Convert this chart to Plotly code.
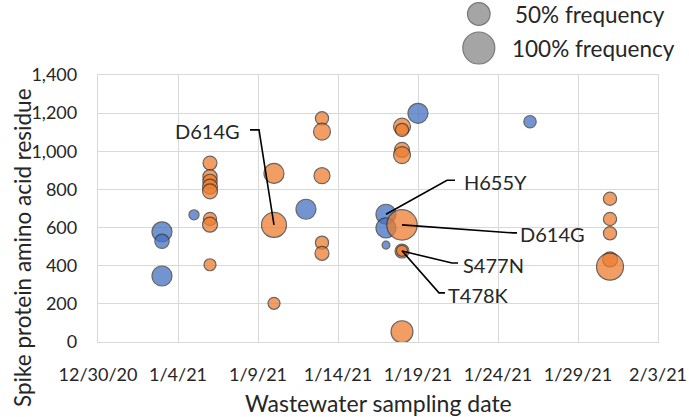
import plotly.graph_objects as go

# ---------------- data ----------------
blue_dates = ["2021-01-03", "2021-01-03", "2021-01-03", "2021-01-05", "2021-01-12",
              "2021-01-17", "2021-01-17", "2021-01-17", "2021-01-19", "2021-01-26"]
blue_residues = [578, 528, 346, 667, 696, 670, 598, 508, 1199, 1155]
blue_freq = [0.39, 0.20, 0.39, 0.10, 0.39, 0.39, 0.39, 0.06, 0.39, 0.15]

orange_dates = ["2021-01-06"] * 8 + ["2021-01-10"] * 3 + ["2021-01-13"] * 5 + \
               ["2021-01-18"] * 8 + ["2021-01-31"] * 5
orange_residues = [938, 866, 842, 815, 790, 645, 615, 405,
                   884, 614, 203,
                   1173, 1103, 872, 521, 465,
                   1129, 1112, 1007, 980, 614, 477, 478, 54,
                   751, 645, 570, 433, 395]
orange_freq = [0.19, 0.20, 0.20, 0.22, 0.22, 0.17, 0.22, 0.14,
               0.39, 0.61, 0.14,
               0.17, 0.28, 0.25, 0.17, 0.19,
               0.28, 0.17, 0.22, 0.28, 0.90, 0.19, 0.12, 0.47,
               0.17, 0.17, 0.17, 0.22, 0.71]

legend_labels = ["100% frequency", "50% frequency"]
legend_freq = [1.0, 0.5]

callout_labels = ["D614G", "H655Y", "D614G", "S477N", "T478K"]
callout_dates = ["2021-01-10", "2021-01-17", "2021-01-18", "2021-01-18", "2021-01-18"]
callout_residues = [614, 670, 614, 477, 478]

x_tick_start = "2020-12-30"
x_tick_end = "2021-02-03"
y_max = 1400

# ---------------- style ----------------
FONT = "Lato, Carlito, Calibri, sans-serif"
TXT = "#262626"
GRID = "#D9D9D9"
MAX_D = 32                     # px diameter of a 100% bubble
SIZEREF = 2.0 / MAX_D ** 2     # plotly area sizing

# pixel geometry of each callout relative to its point: elbow, stub end, text pos, anchor
callout_geom = [
    dict(elbow=(-15, 95), stub=(-24, 95), text=(-32, 94), anchor="right"),
    dict(elbow=(61, 34), stub=(69, 34), text=(76, 32), anchor="left"),
    dict(elbow=(111, -8), stub=(115, -8), text=(116, -9), anchor="left"),
    dict(elbow=(50, -12), stub=(56, -12), text=(59, -14), anchor="left"),
    dict(elbow=(37, -42), stub=(43, -42), text=(44, -44), anchor="left"),
]

fig = go.Figure()

def bubble(dates, vals, freq, color):
    return go.Scatter(
        x=dates, y=vals, mode="markers",
        marker=dict(size=freq, sizemode="area", sizeref=SIZEREF, color=color,
                    opacity=0.75, line=dict(color="#333333", width=1.2)),
        showlegend=False, hoverinfo="x+y",
    )

fig.add_trace(bubble(blue_dates, blue_residues, blue_freq, "#4472C4"))
fig.add_trace(bubble(orange_dates, orange_residues, orange_freq, "#ED7D31"))

# bubble-size legend
fig.add_trace(go.Scatter(
    x=[0] * len(legend_labels), y=legend_labels, xaxis="x2", yaxis="y2",
    mode="markers", cliponaxis=False,
    marker=dict(size=legend_freq, sizemode="area", sizeref=SIZEREF,
                color="#808080", line=dict(color="#404040", width=1.2)),
    showlegend=False, hoverinfo="skip",
))
for lab, xs in zip(legend_labels, [31, 34]):
    fig.add_annotation(x=0, y=lab, xref="x2", yref="y2", text=lab, showarrow=False,
                       xanchor="left", yanchor="middle", xshift=xs,
                       font=dict(family=FONT, size=22.5, color=TXT))

# callouts
for lab, d, v, g in zip(callout_labels, callout_dates, callout_residues, callout_geom):
    (ex, ey), (sx, sy) = g["elbow"], g["stub"]
    fig.add_shape(type="path", xref="x", yref="y", xsizemode="pixel", ysizemode="pixel",
                  xanchor=d, yanchor=v,
                  path=f"M 0,0 L {ex},{ey} L {sx},{sy}",
                  line=dict(color="#000000", width=1.6))
    tx, ty = g["text"]
    fig.add_annotation(x=d, y=v, xref="x", yref="y", text=lab, showarrow=False,
                       xanchor=g["anchor"], yanchor="middle", xshift=tx, yshift=ty,
                       font=dict(family=FONT, size=20, color=TXT))

# axis titles
fig.add_annotation(text="Wastewater sampling date", xref="paper", yref="paper",
                   x=0.5, y=(342 - 403) / 342, showarrow=False, yanchor="middle",
                   font=dict(family=FONT, size=23, color=TXT))
fig.add_annotation(text="Spike protein amino acid residue", xref="paper", yref="paper",
                   x=(22 - 98) / 560, y=(342 - 248) / 342, textangle=-90, showarrow=False,
                   xanchor="center", yanchor="middle",
                   font=dict(family=FONT, size=22.5, color=TXT))

fig.update_layout(
    width=689, height=417, autosize=False,
    margin=dict(l=98, r=31, t=0, b=75, pad=0, autoexpand=False),
    paper_bgcolor="white", plot_bgcolor="white",
    font=dict(family=FONT, color=TXT),
    xaxis=dict(type="date", range=[x_tick_start, x_tick_end], tick0=x_tick_start,
               dtick=5 * 86400000, tickformat="%-m/%-d/%y", automargin=False,
               showgrid=True, gridcolor=GRID, gridwidth=1.3,
               showline=True, linecolor=GRID, linewidth=1.3, mirror=True,
               zeroline=False, ticks="", ticklabelstandoff=16,
               tickfont=dict(family=FONT, size=18, color=TXT)),
    yaxis=dict(range=[0, y_max], dtick=200, tickformat=",d", domain=[0, 267 / 342],
               automargin=False,
               showgrid=True, gridcolor=GRID, gridwidth=1.3,
               showline=True, linecolor=GRID, linewidth=1.3, mirror=True,
               zeroline=False, ticks="", ticklabelstandoff=16,
               tickfont=dict(family=FONT, size=18, color=TXT)),
    xaxis2=dict(domain=[0.62, 0.74], anchor="y2", range=[-1, 1], visible=False,
                automargin=False),
    yaxis2=dict(domain=[1 - 65 / 342, 1.0], anchor="x2", type="category",
                categoryorder="array", categoryarray=legend_labels,
                range=[-0.5, 1.412], visible=False, automargin=False),
)

fig.write_html("out.html", config={"displayModeBar": False},
               post_script="document.body.style.margin='0';document.body.style.overflow='hidden';")
